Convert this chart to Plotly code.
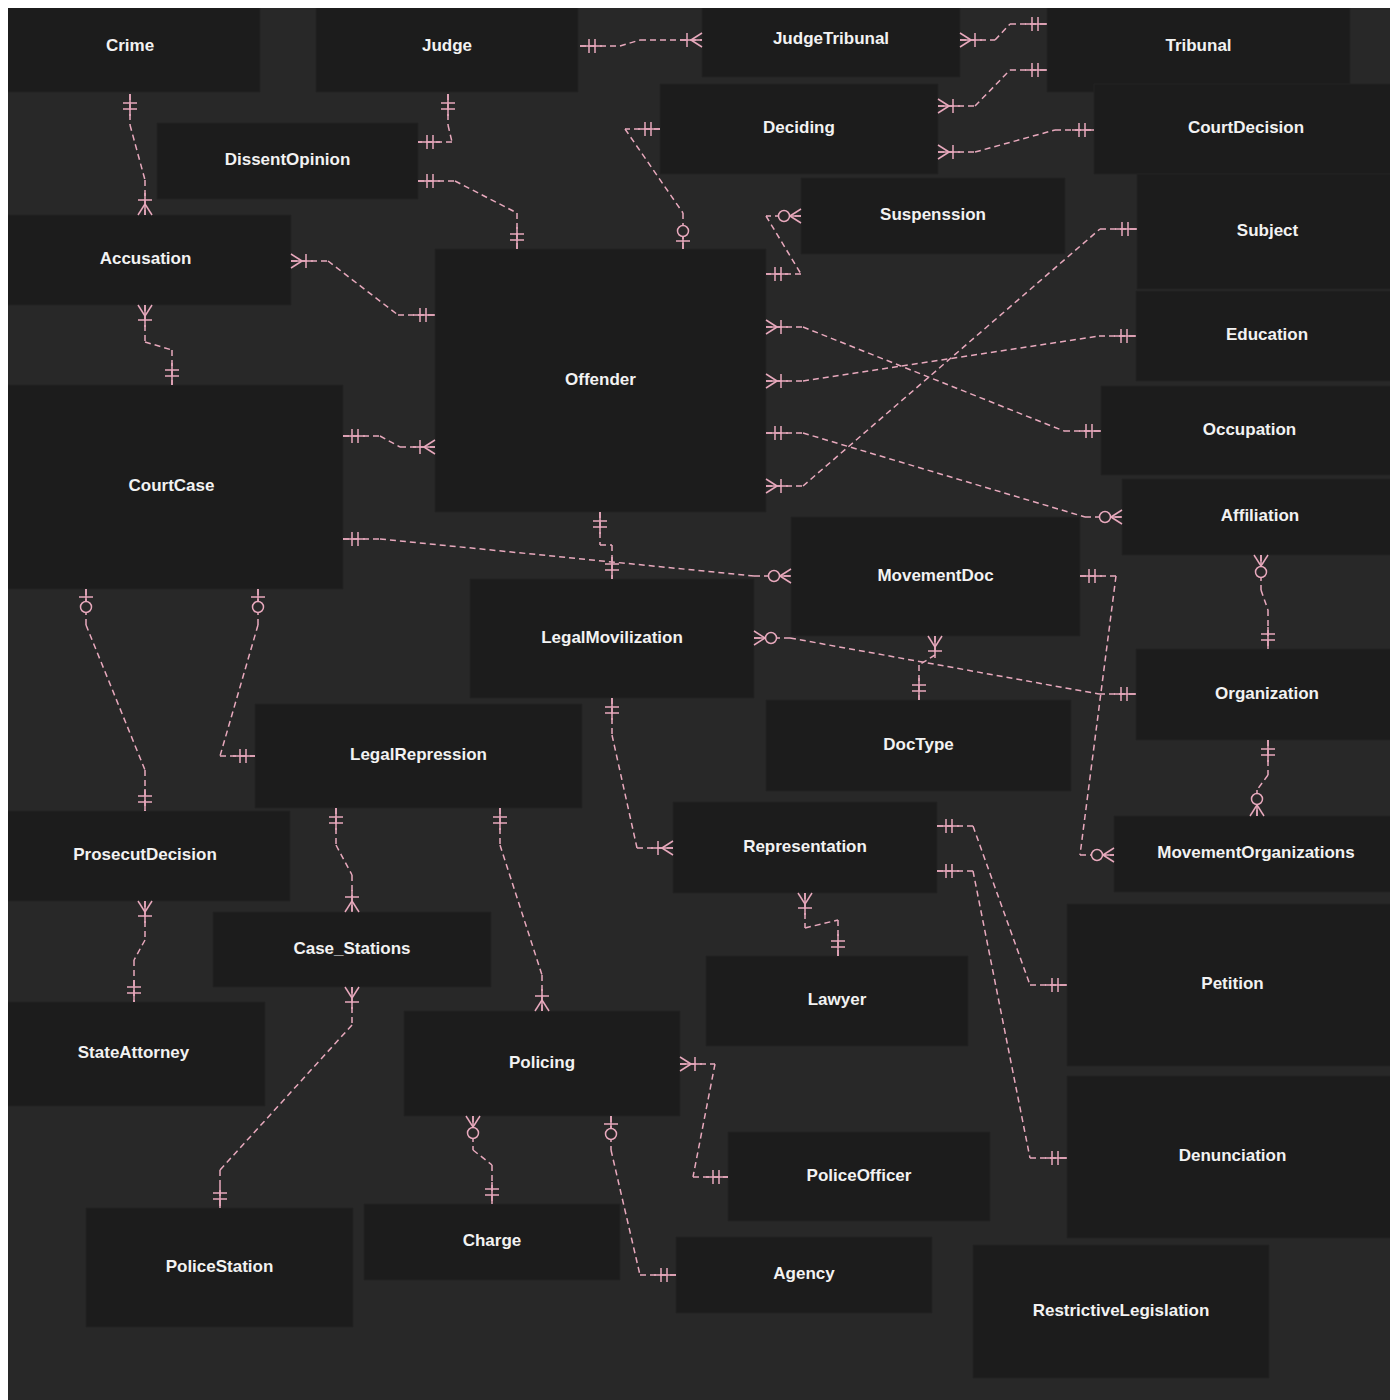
import plotly.graph_objects as go
import math

names = ["Crime","Judge","JudgeTribunal","Tribunal","Deciding","CourtDecision","DissentOpinion","Suspenssion",
 "Subject","Accusation","Offender","Education","CourtCase","Occupation","Affiliation","MovementDoc",
 "LegalMovilization","Organization","DocType","LegalRepression","ProsecutDecision","Representation",
 "MovementOrganizations","Petition","Case_Stations","Lawyer","StateAttorney","Policing","PoliceOfficer",
 "Denunciation","Charge","Agency","PoliceStation","RestrictiveLegislation"]
box_x0 = [0,316,702,1047,660,1094,157,801,1137,0,435,1136,0,1101,1122,791,470,1136,766,255,0,673,1114,1067,213,706,2,404,728,1067,364,676,86,973]
box_y0 = [2,2,2,2,84,84,123,178,174,215,249,291,385,386,479,517,579,649,700,704,811,802,816,904,912,956,1002,1011,1132,1076,1204,1237,1208,1245]
box_x1 = [260,578,960,1350,938,1398,418,1065,1398,291,766,1398,343,1398,1398,1080,754,1398,1071,582,290,937,1398,1398,491,968,265,680,990,1398,620,932,353,1269]
box_y1 = [92,92,77,92,174,174,199,254,289,305,512,381,589,475,555,636,698,740,791,808,901,893,892,1066,987,1046,1106,1116,1221,1238,1280,1313,1327,1378]

edges = [
 ([(580,46),(620,46),(640,40),(702,40)],"one","many"),
 ([(960,40),(995,40),(1010,24),(1047,24)],"many","one"),
 ([(938,106),(975,106),(1010,70),(1047,70)],"many","one"),
 ([(938,152),(975,152),(1055,130),(1094,130)],"many","one"),
 ([(130,94),(130,125),(145,180),(145,215)],"one","many"),
 ([(448,94),(448,125),(452,142),(418,142)],"one","one"),
 ([(418,181),(455,181),(517,213),(517,249)],"one","one"),
 ([(660,129),(625,129),(683,213),(683,249)],"one","zone"),
 ([(801,216),(766,216),(801,274),(766,274)],"zmany","one"),
 ([(291,261),(328,261),(398,315),(435,315)],"many","one"),
 ([(145,305),(145,342),(172,350),(172,385)],"many","one"),
 ([(343,436),(380,436),(400,447),(435,447)],"one","many"),
 ([(766,486),(803,486),(1100,229),(1137,229)],"many","one"),
 ([(766,381),(803,381),(1099,336),(1136,336)],"many","one"),
 ([(766,327),(803,327),(1064,431),(1101,431)],"many","one"),
 ([(766,433),(803,433),(1085,517),(1122,517)],"one","zmany"),
 ([(600,512),(600,545),(612,545),(612,579)],"one","one"),
 ([(343,539),(380,539),(754,576),(791,576)],"one","zmany"),
 ([(935,636),(935,655),(919,665),(919,700)],"many","one"),
 ([(754,638),(790,638),(1099,694),(1136,694)],"zmany","one"),
 ([(1261,555),(1261,590),(1268,610),(1268,649)],"zmany","one"),
 ([(1268,740),(1268,775),(1257,790),(1257,816)],"one","zmany"),
 ([(1080,576),(1116,576),(1080,855),(1114,855)],"one","zmany"),
 ([(86,589),(86,625),(145,770),(145,811)],"zone","one"),
 ([(258,589),(258,625),(220,756),(255,756)],"zone","one"),
 ([(612,698),(612,735),(637,848),(673,848)],"one","many"),
 ([(145,901),(145,940),(134,960),(134,1002)],"many","one"),
 ([(336,808),(336,845),(352,875),(352,912)],"one","many"),
 ([(500,808),(500,845),(542,975),(542,1011)],"one","many"),
 ([(352,987),(352,1025),(220,1170),(220,1208)],"many","one"),
 ([(805,893),(805,928),(838,920),(838,956)],"many","one"),
 ([(937,826),(973,826),(1030,985),(1067,985)],"one","one"),
 ([(937,871),(973,871),(1030,1158),(1067,1158)],"one","one"),
 ([(680,1064),(715,1064),(693,1177),(728,1177)],"many","one"),
 ([(473,1116),(473,1150),(492,1165),(492,1204)],"zmany","one"),
 ([(611,1116),(611,1150),(640,1275),(676,1275)],"zone","one"),
]

PINK = "#e8a9bd"
fig = go.Figure()
for i, n in enumerate(names):
    fig.add_shape(type="rect", x0=box_x0[i], y0=box_y0[i], x1=box_x1[i], y1=box_y1[i],
                  fillcolor="#1c1c1c", line=dict(color="#222222", width=1), layer="below")

dx, dy, sx, sy, cx, cy = [], [], [], [], [], []
def seg(xs, ys, a, b):
    xs += [a[0], b[0], None]; ys += [a[1], b[1], None]

def marker(p, q, kind):
    L = math.hypot(q[0]-p[0], q[1]-p[1]) or 1
    d = ((q[0]-p[0])/L, (q[1]-p[1])/L)
    n = (-d[1], d[0])
    at = lambda t, s=0: (p[0]+d[0]*t+n[0]*s, p[1]+d[1]*t+n[1]*s)
    seg(sx, sy, p, at(22))
    def bar(t): seg(sx, sy, at(t, -7), at(t, 7))
    def crow():
        seg(sx, sy, at(0, -7), at(11)); seg(sx, sy, at(0, 7), at(11))
    if kind == "one":
        bar(9); bar(15)
    elif kind == "many":
        crow(); bar(15)
    elif kind == "zmany":
        crow(); c = at(17); cx.append(c[0]); cy.append(c[1])
    elif kind == "zone":
        bar(8); c = at(18); cx.append(c[0]); cy.append(c[1])

for pts, a, b in edges:
    for k in range(len(pts)-1):
        seg(dx, dy, pts[k], pts[k+1])
    marker(pts[0], pts[1], a)
    marker(pts[-1], pts[-2], b)

fig.add_trace(go.Scatter(x=dx, y=dy, mode="lines", line=dict(color=PINK, width=1.5, dash="6px,4px"), hoverinfo="skip"))
fig.add_trace(go.Scatter(x=sx, y=sy, mode="lines", line=dict(color=PINK, width=1.5), hoverinfo="skip"))
fig.add_trace(go.Scatter(x=cx, y=cy, mode="markers", marker=dict(size=11, color="#282828", line=dict(color=PINK, width=1.5)), hoverinfo="skip"))
fig.add_trace(go.Scatter(x=[(a+b)/2 for a, b in zip(box_x0, box_x1)], y=[(a+b)/2 for a, b in zip(box_y0, box_y1)],
                         mode="text", text=[f"<b>{n}</b>" for n in names],
                         textfont=dict(family="Liberation Sans, Arial", size=17, color="#f2f2f2"), hoverinfo="skip"))

fig.update_layout(width=1390, height=1392, margin=dict(l=0, r=0, t=0, b=0), showlegend=False,
                  paper_bgcolor="#282828", plot_bgcolor="#282828")
fig.update_xaxes(range=[8, 1398], visible=False, fixedrange=True)
fig.update_yaxes(range=[1400, 8], visible=False, fixedrange=True)
fig.write_html("out.html")
